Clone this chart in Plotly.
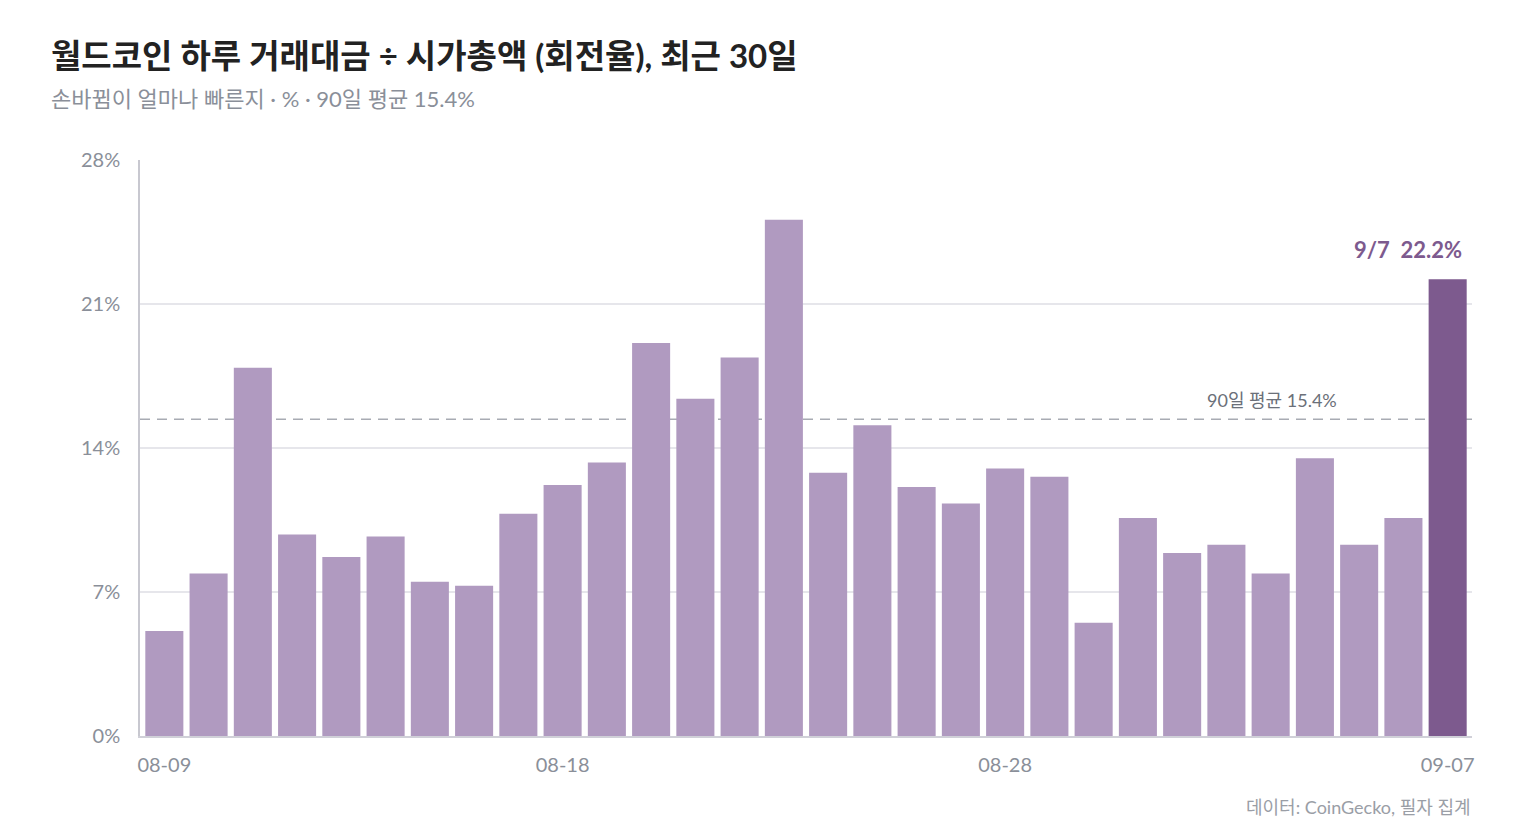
import plotly.graph_objects as go

# daily turnover (volume / market cap), %
dates = ['08-09', '08-10', '08-11', '08-12', '08-13', '08-14', '08-15', '08-16', '08-17', '08-18',
         '08-19', '08-20', '08-21', '08-22', '08-23', '08-24', '08-25', '08-26', '08-27', '08-28',
         '08-29', '08-30', '08-31', '09-01', '09-02', '09-03', '09-04', '09-05', '09-06', '09-07']
turnover = [5.1, 7.9, 17.9, 9.8, 8.7, 9.7, 7.5, 7.3, 10.8, 12.2,
            13.3, 19.1, 16.4, 18.4, 25.1, 12.8, 15.1, 12.1, 11.3, 13.0,
            12.6, 5.5, 10.6, 8.9, 9.3, 7.9, 13.5, 9.3, 10.6, 22.2]
avg90 = 15.4
tick_dates = ['08-09', '08-18', '08-28', '09-07']
y_ticks = [0, 7, 14, 21, 28]

font = "Lato, 'Noto Sans CJK KR', sans-serif"
bar_colors = ['#b09ac0'] * (len(dates) - 1) + ['#7d5a8e']

fig = go.Figure()
fig.add_trace(go.Bar(x=dates, y=turnover, marker_color=bar_colors,
                     marker_line_width=0, hoverinfo='x+y'))

fig.add_hline(y=avg90, line_dash='10px,7px', line_color='#a8abb3', line_width=1.5, layer='below')
fig.add_annotation(x=dates[26], y=avg90, text=f'90일 평균 {avg90}%', showarrow=False,
                   xanchor='right', yanchor='bottom', yshift=6, xshift=24,
                   font=dict(family=font, size=18, color='#6b7079'))
fig.add_annotation(x=dates[-1], y=turnover[-1], text=f'9/7  {turnover[-1]}%', showarrow=False,
                   xanchor='right', yanchor='bottom', yshift=14, xshift=16,
                   font=dict(family=font, size=22, color='#7d5a8e', weight='bold'))

# title, subtitle and source as free text
fig.add_annotation(xref='paper', yref='paper', x=-0.068, y=1.182, text='월드코인 하루 거래대금 ÷ 시가총액 (회전율), 최근 30일',
                   showarrow=False, xanchor='left', yanchor='middle',
                   font=dict(family=font, size=33, color='#222222', weight='bold'))
fig.add_annotation(xref='paper', yref='paper', x=-0.068, y=1.106, text='손바뀜이 얼마나 빠른지 · % · 90일 평균 15.4%',
                   showarrow=False, xanchor='left', yanchor='middle',
                   font=dict(family=font, size=22, color='#8a8f99'))
fig.add_annotation(xref='paper', yref='paper', x=1.001, y=-0.123, text='데이터: CoinGecko, 필자 집계',
                   showarrow=False, xanchor='right', yanchor='middle',
                   font=dict(family=font, size=18, color='#9a9ea6'))

fig.update_layout(
    width=1520, height=840,
    margin=dict(l=132, r=56, t=152, b=112),
    paper_bgcolor='white', plot_bgcolor='white',
    bargap=0.14, showlegend=False,
    xaxis=dict(type='category', tickmode='array', tickvals=tick_dates, ticktext=tick_dates,
               showgrid=False, showline=True, linecolor='#d0d0d8', linewidth=1.5,
               ticks='', ticklabelstandoff=10,
               tickfont=dict(family=font, size=20, color='#8a8f99'),
               range=[-0.55, len(dates) - 0.45]),
    yaxis=dict(range=[0, 28], tickmode='array', tickvals=y_ticks,
               ticktext=[f'{v}%' for v in y_ticks],
               showgrid=True, gridcolor='#e6e6eb', gridwidth=1.5,
               showline=True, linecolor='#c8c8d0', linewidth=1.5, zeroline=False,
               ticks='', ticklabelstandoff=14,
               tickfont=dict(family=font, size=20, color='#8a8f99')),
)

fig.write_html("out.html")
